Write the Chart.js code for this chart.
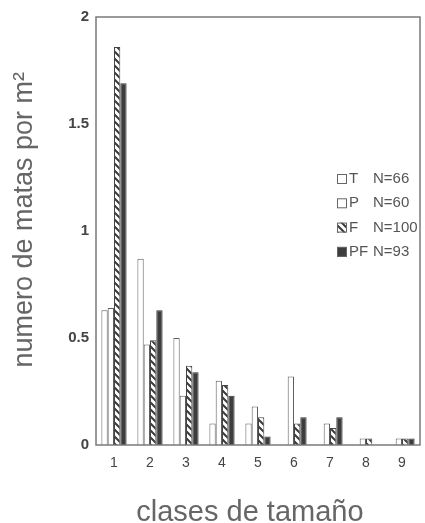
<!DOCTYPE html>
<html>
<head>
<meta charset="utf-8">
<script src="https://cdn.jsdelivr.net/npm/chart.js@4/dist/chart.umd.min.js"></script>
<style>
  html, body { margin: 0; padding: 0; background: #fff; }
  #wrap { width: 425px; height: 523px; position: relative; }
</style>
</head>
<body>
<div id="wrap"><canvas id="sizeChart"></canvas></div>
<script>
// size classes and densities (matas por m2)
const sizeClasses = ["1", "2", "3", "4", "5", "6", "7", "8", "9"];
const seriesNames = ["T", "P", "F", "PF"];
const seriesN = ["N=66", "N=60", "N=100", "N=93"];
const valuesT  = [0.63, 0.87, 0.50, 0.10, 0.10, 0, 0, 0, 0];
const valuesP  = [0.64, 0.47, 0.23, 0.30, 0.18, 0.32, 0.10, 0.03, 0.03];
const valuesF  = [1.86, 0.49, 0.37, 0.28, 0.13, 0.10, 0.08, 0.03, 0.03];
const valuesPF = [1.69, 0.63, 0.34, 0.23, 0.04, 0.13, 0.13, 0, 0.03];
const yTicks = [0, 0.5, 1, 1.5, 2];

document.addEventListener("DOMContentLoaded", function () {

    /* ---- hatch pattern for F ---- */
    function makeHatch() {
        const size = 7;
        const c = document.createElement("canvas");
        c.width = size; c.height = size;
        const g = c.getContext("2d");
        g.fillStyle = "#ffffff";
        g.fillRect(0, 0, size, size);
        g.strokeStyle = "#3a3a3a";
        g.lineWidth = 2;
        g.beginPath();
        g.moveTo(-1, -1); g.lineTo(size + 1, size + 1);
        g.moveTo(-1, size - 1); g.lineTo(1, size + 1);
        g.moveTo(size - 1, -1); g.lineTo(size + 1, 1);
        g.stroke();
        return g.createPattern(c, "repeat");
    }
    const hatch = makeHatch();

    /* ---- frame around the plot ---- */
    const framePlugin = {
        id: "frame",
        afterDatasetsDraw(chart) {
            const a = chart.chartArea, ctx = chart.ctx;
            ctx.save();
            ctx.strokeStyle = "#7a7a7a";
            ctx.lineWidth = 1.5;
            ctx.strokeRect(a.left, a.top, a.right - a.left, a.bottom - a.top);
            ctx.restore();
        }
    };

    /* ---- legend drawn inside the plot, right side ---- */
    const insideLegend = {
        id: "insideLegend",
        afterDraw(chart) {
            const ctx = chart.ctx, a = chart.chartArea;
            const boxX = a.right - 83, codeX = a.right - 71, nX = a.right - 47;
            ctx.save();
            ctx.font = "15px 'Liberation Sans', Arial, sans-serif";
            ctx.textBaseline = "middle";
            chart.data.datasets.forEach(function (ds, i) {
                const y = 179 + i * 24.3;
                ctx.fillStyle = ds.backgroundColor;
                ctx.fillRect(boxX, y - 5, 10, 10);
                ctx.strokeStyle = "#666";
                ctx.lineWidth = 1;
                ctx.strokeRect(boxX + 0.5, y - 4.5, 9, 9);
                ctx.fillStyle = "#555";
                ctx.textAlign = "left";
                ctx.fillText(ds.label, codeX, y);
                ctx.fillText(seriesN[i], nX, y);
            });
            ctx.restore();
        }
    };

    const ctx = document.getElementById("sizeChart");
    new Chart(ctx, {
        type: "bar",
        data: {
            labels: sizeClasses,
            datasets: [
                { label: seriesNames[0], data: valuesT,  backgroundColor: "#ffffff", borderColor: "#5e5e5e", borderWidth: 1 },
                { label: seriesNames[1], data: valuesP,  backgroundColor: "#ffffff", borderColor: "#5e5e5e", borderWidth: 1 },
                { label: seriesNames[2], data: valuesF,  backgroundColor: hatch,     borderColor: "#444",    borderWidth: 1 },
                { label: seriesNames[3], data: valuesPF, backgroundColor: "#3d3d3d", borderColor: "#333",    borderWidth: 1 }
            ]
        },
        options: {
            responsive: true,
            maintainAspectRatio: false,
            animation: false,
            layout: { padding: { top: 17, right: 5, left: 0, bottom: 0 } },
            datasets: {
                bar: { categoryPercentage: 0.7, barPercentage: 1.0 }
            },
            plugins: {
                legend: { display: false },
                tooltip: { enabled: false }
            },
            scales: {
                x: {
                    grid: { display: false, drawTicks: false },
                    border: { display: false },
                    ticks: {
                        color: "#444",
                        padding: 10,
                        font: { family: "'Liberation Sans', Arial, sans-serif", size: 14 }
                    },
                    title: {
                        display: true,
                        text: "clases de tamaño  ",
                        color: "#666",
                        padding: { top: 0, bottom: -7 },
                        font: { family: "'Liberation Sans', Arial, sans-serif", size: 29 }
                    },
                    afterFit: function (scale) { scale.height = 78; }
                },
                y: {
                    min: 0,
                    max: 2,
                    grid: { display: false, drawTicks: false },
                    border: { display: false },
                    afterBuildTicks: function (scale) {
                        scale.ticks = yTicks.map(function (v) { return { value: v }; });
                    },
                    ticks: {
                        color: "#444",
                        padding: 7,
                        font: { family: "'Liberation Sans', Arial, sans-serif", size: 15, weight: "bold" },
                        callback: function (v) { return String(v); }
                    },
                    title: {
                        display: true,
                        text: "   numero de matas por m²",
                        color: "#666",
                        padding: { top: 8, bottom: 0 },
                        font: { family: "'Liberation Sans', Arial, sans-serif", size: 27 }
                    },
                    afterFit: function (scale) { scale.width = 96; }
                }
            }
        },
        plugins: [framePlugin, insideLegend]
    });
});
</script>
</body>
</html>
